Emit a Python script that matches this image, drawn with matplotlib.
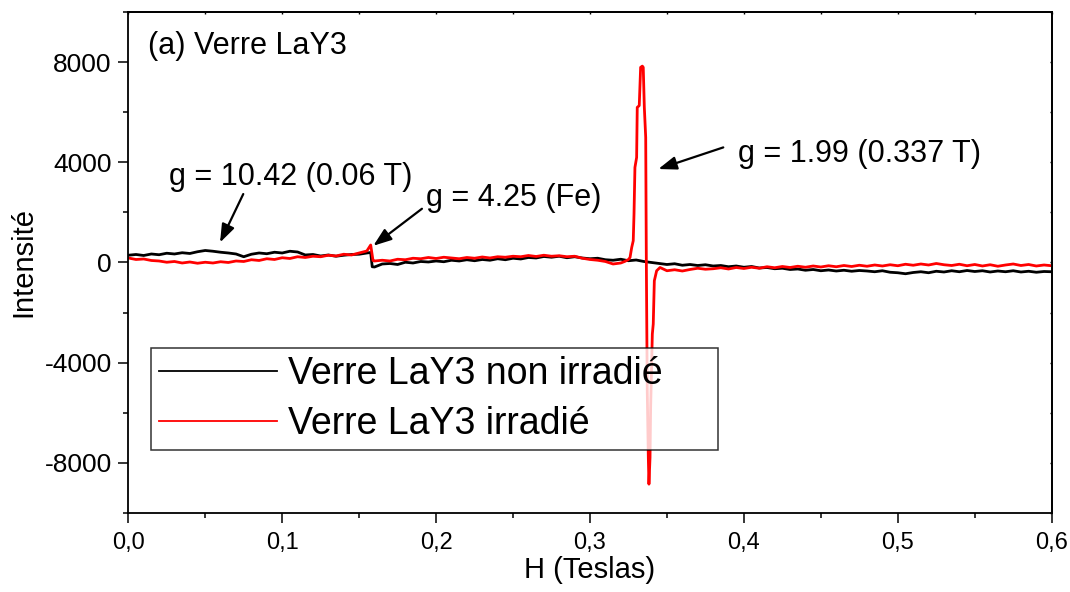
import numpy as np
import matplotlib
matplotlib.use("Agg")
import matplotlib.pyplot as plt
from matplotlib.ticker import MultipleLocator, FuncFormatter

plt.rcParams['font.family'] = ['Liberation Sans', 'DejaVu Sans']
plt.rcParams['axes.unicode_minus'] = False

# ---- data (field in T, intensity in a.u.) ----
grid_step = 0.005
grid_n = 121  # 0.000 ... 0.600

black_grid_y = [
    290, 320, 280, 340, 310, 370, 340, 390, 360, 430,   # 0.000-0.045
    480, 450, 410, 380, 340, 230, 330, 380, 350, 410,   # 0.050-0.095
    380, 450, 420, 300, 320, 260, 300, 250, 290, 320,   # 0.100-0.145
    330, 380, -180, -60, -40, -80, 10, -20, 40, 20,     # 0.150-0.195
    60, 30, 90, 60, 110, 70, 120, 90, 150, 110,         # 0.200-0.245
    170, 140, 200, 180, 240, 210, 250, 190, 230, 180,   # 0.250-0.295
    150, 170, 110, 90, 130, 70, 100, 40, 0, -40,        # 0.300-0.345
    -80, -50, -110, -80, -120, -90, -140, -120, -170, -140,  # 0.350-0.395
    -190, -160, -220, -200, -250, -230, -280, -260, -310, -280,  # 0.400-0.445
    -330, -300, -340, -310, -350, -320, -340, -370, -330, -390,  # 0.450-0.495
    -410, -450, -400, -370, -410, -350, -380, -330, -370, -320,  # 0.500-0.545
    -360, -330, -380, -340, -370, -330, -380, -350, -390, -360,  # 0.550-0.595
    -370,                                                        # 0.600
]
black_extra_x = [0.1575, 0.1585]
black_extra_y = [400, -170]

red_grid_y = [
    180, 120, 140, 80, 60, 10, 40, -20, 20, -30,        # 0.000-0.045
    10, -20, 30, 0, 60, 40, 110, 80, 150, 120,          # 0.050-0.095
    190, 160, 230, 200, 250, 230, 290, 260, 330, 300,   # 0.100-0.145
    380, 460, 60, 90, 60, 130, 110, 170, 150, 200,      # 0.150-0.195
    160, 210, 180, 150, 200, 170, 220, 180, 230, 210,   # 0.200-0.245
    250, 230, 280, 240, 290, 250, 270, 230, 250, 170,   # 0.250-0.295
    120, 90, 40, -60, -20, 0, 0, 0, 0, 0,               # 0.300-0.345 (0.325-0.345 replaced by peak)
    -330, -290, -340, -280, -230, -270, -250, -210, -260, -200,  # 0.350-0.395
    -240, -190, -230, -170, -210, -160, -200, -150, -190, -140,  # 0.400-0.445
    -180, -130, -170, -120, -160, -110, -150, -100, -140, -90,   # 0.450-0.495
    -130, -70, -110, -60, -100, -40, -90, -120, -70, -130,       # 0.500-0.545
    -80, -140, -90, -150, -100, -60, -120, -80, -140, -100,      # 0.550-0.595
    -130,                                                        # 0.600
]
red_extra_x = [0.1575, 0.1590,
               0.3225, 0.3250, 0.3260, 0.3271, 0.3281, 0.3286, 0.3292, 0.3303,
               0.3307, 0.3320, 0.3329, 0.3340, 0.3346, 0.3353, 0.3362, 0.3366,
               0.3372, 0.3379, 0.3383, 0.3390, 0.3394, 0.3405, 0.3411, 0.3418,
               0.3433, 0.3455]
red_extra_y = [700, 80,
               40, 120, 200, 600, 870, 1940, 3800, 4200,
               6200, 6270, 7800, 7850, 7800, 6200, 5000, 100,
               -5130, -7800, -8860, -7800, -5800, -2860, -2460, -730,
               -330, -200]
red_peak_window = (0.3220, 0.3460)

labels = ["Verre LaY3 non irradié", "Verre LaY3 irradié"]

# ---- assemble series ----
grid_x = np.round(np.arange(grid_n) * grid_step, 4)

bx = np.concatenate([grid_x, black_extra_x])
by = np.concatenate([black_grid_y, black_extra_y])
o = np.argsort(bx, kind="stable")
bx, by = bx[o], by[o]

keep = ~((grid_x > red_peak_window[0]) & (grid_x < red_peak_window[1]))
rx = np.concatenate([grid_x[keep], red_extra_x])
ry = np.concatenate([np.asarray(red_grid_y)[keep], red_extra_y])
o = np.argsort(rx, kind="stable")
rx, ry = rx[o], ry[o]

# ---- figure ----
fig = plt.figure(figsize=(10.70, 5.92), dpi=100)
ax = fig.add_axes([0.1199, 0.134, 0.863, 0.8452])

ax.plot(bx, by, color="black", lw=2.0, label=labels[0])
ax.plot(rx, ry, color="red", lw=2.0, label=labels[1])

ax.set_xlim(0, 0.6)
ax.set_ylim(-10000, 10000)

ax.xaxis.set_major_locator(MultipleLocator(0.1))
ax.xaxis.set_minor_locator(MultipleLocator(0.05))
ax.yaxis.set_major_locator(MultipleLocator(4000))
ax.yaxis.set_minor_locator(MultipleLocator(2000))
ax.xaxis.set_major_formatter(FuncFormatter(lambda v, p: f"{v:.1f}".replace(".", ",")))
ax.yaxis.set_major_formatter(FuncFormatter(lambda v, p: f"{int(round(v))}"))

ax.tick_params(which="major", direction="out", length=7, width=1.1,
               top=False, right=False)
ax.tick_params(which="minor", direction="out", length=3.5, width=1.1,
               top=False, right=False)
ax.tick_params(axis="x", which="major", pad=7, labelsize=17)
ax.tick_params(axis="y", which="major", pad=5, labelsize=19)

# tiny inward ticks on top / right
axt = ax.secondary_xaxis("top")
axt.xaxis.set_major_locator(MultipleLocator(0.05))
axt.tick_params(direction="in", length=1.5, width=1.0, labeltop=False)
axt.set_xticklabels([])
axr = ax.secondary_yaxis("right")
axr.yaxis.set_major_locator(MultipleLocator(2000))
axr.tick_params(direction="in", length=1.5, width=1.0, labelright=False)
axr.set_yticklabels([])
for s in list(ax.spines.values()):
    s.set_linewidth(1.3)
axt.spines["top"].set_linewidth(1.3)
axr.spines["right"].set_linewidth(1.3)

ax.set_xlabel("H (Teslas)", fontsize=21, labelpad=1)
ax.set_ylabel("Intensité", fontsize=21, labelpad=5)

ax.text(0.0128, 8668, "(a) Verre LaY3", fontsize=22, va="center", ha="left")
ax.text(0.0265, 3428, "g = 10.42 (0.06 T)", fontsize=22, va="center", ha="left")
ax.text(0.1934, 2588, "g = 4.25 (Fe)", fontsize=22, va="center", ha="left")
ax.text(0.3962, 4348, "g = 1.99 (0.337 T)", fontsize=22, va="center", ha="left")

arrow_kw = dict(arrowstyle="-|>,head_length=1.1,head_width=0.4", color="black", lw=1.6,
                shrinkA=0, shrinkB=0)
ax.annotate("", xy=(0.0596, 800), xytext=(0.0747, 2736), arrowprops=arrow_kw)
ax.annotate("", xy=(0.1592, 668), xytext=(0.1908, 2148), arrowprops=arrow_kw)
ax.annotate("", xy=(0.3444, 3736), xytext=(0.3866, 4600), arrowprops=arrow_kw)

leg = ax.legend(loc="upper left", bbox_to_anchor=(0.0243, 0.1287, 0.6143, 0.1998),
                mode="expand", borderaxespad=0,
                fontsize=27, frameon=True, fancybox=False, edgecolor="black",
                handlelength=3.15, handletextpad=0.29, borderpad=0.21, labelspacing=0.38)
leg.get_frame().set_linewidth(1.1)
for l in leg.get_lines():
    l.set_linewidth(1.3)

fig.savefig("out.png", dpi=100)
